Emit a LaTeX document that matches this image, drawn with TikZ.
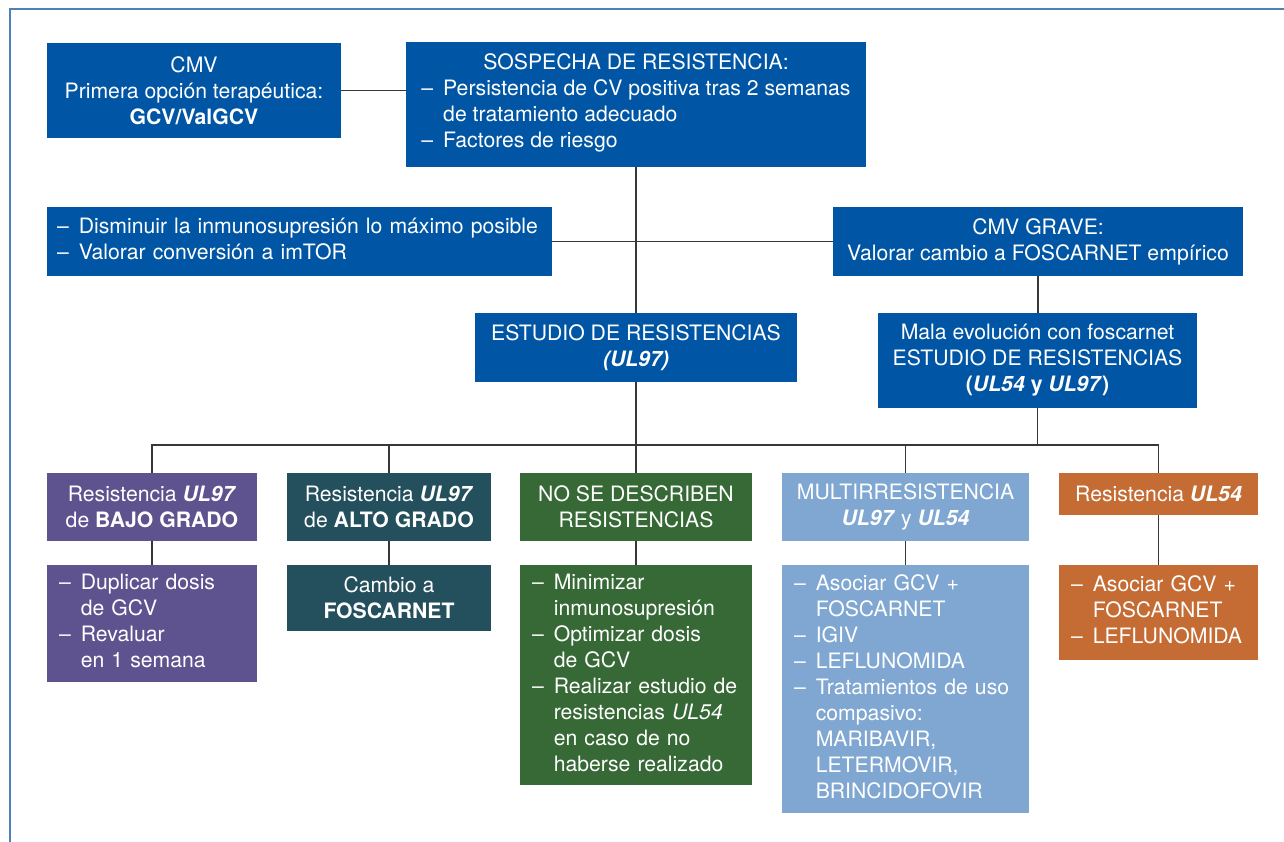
\documentclass[tikz,border=0pt]{standalone}
\usepackage{fontspec}
\setmainfont{TeX Gyre Heros}
\usetikzlibrary{calc}

\definecolor{cmvblue}{RGB}{0,86,164}
\definecolor{bajopurple}{RGB}{95,83,143}
\definecolor{altoteal}{RGB}{36,79,92}
\definecolor{nosegreen}{RGB}{54,105,53}
\definecolor{multiblue}{RGB}{127,167,209}
\definecolor{ulorange}{RGB}{196,108,52}
\definecolor{framecol}{RGB}{78,128,188}
\definecolor{linkcol}{RGB}{55,55,55}

\newcommand{\gen}[1]{\textbf{\textit{#1}}}
\newcommand{\guiones}[1]{\begin{tabular}[t]{@{}l@{\hspace{10pt}}l@{}}#1\end{tabular}}

\begin{document}
\begin{tikzpicture}[x=1pt, y=-1pt,
    box/.style={rectangle, inner sep=0pt, text=white, align=center,
        font=\fontsize{21.2}{26}\selectfont},
    lbox/.style={box, align=left, inner xsep=12pt},
    link/.style={draw=linkcol, line width=1.3pt},
    frame/.style={draw=framecol, line width=1.5pt}]
    \useasboundingbox (0,0) rectangle (1284,842);
    \draw[frame] (1284,9) -- (10,9) -- (10,842);

    % first row
    \node[box, fill=cmvblue, minimum width=294, minimum height=95] (cmv) at (194,90.5)
        {CMV\\Primera opción terapéutica:\\\textbf{GCV/ValGCV}};
    \node[box, fill=cmvblue, minimum width=460, minimum height=125] (sospecha) at (636,104.5)
        {SOSPECHA DE RESISTENCIA:\\
         \guiones{–&Persistencia de CV positiva tras 2 semanas\\&de tratamiento adecuado\\–&Factores de riesgo}};

    % second row
    \node[lbox, fill=cmvblue, inner xsep=10pt, text width=485, minimum height=69] (disminuir) at (299.5,241.5)
        {\guiones{–&Disminuir la inmunosupresión lo máximo posible\\–&Valorar conversión a imTOR}};
    \node[box, fill=cmvblue, minimum width=410, minimum height=69] (grave) at (1038,241.5)
        {CMV GRAVE:\\Valorar cambio a FOSCARNET empírico};

    % third row
    \node[box, fill=cmvblue, minimum width=322, minimum height=69] (estudio) at (636,347.5)
        {ESTUDIO DE RESISTENCIAS\\\gen{(UL97)}};
    \node[box, fill=cmvblue, minimum width=319, minimum height=95] (mala) at (1037.5,360.5)
        {Mala evolución con foscarnet\\ESTUDIO DE RESISTENCIAS\\\textbf{(\textit{UL54} y \textit{UL97})}};

    % results
    \node[box, fill=bajopurple, minimum width=210, minimum height=68] (bajo) at (152,507)
        {Resistencia \gen{UL97}\\de \textbf{BAJO GRADO}};
    \node[box, fill=altoteal, minimum width=204, minimum height=68] (alto) at (389,507)
        {Resistencia \gen{UL97}\\de \textbf{ALTO GRADO}};
    \node[box, fill=nosegreen, minimum width=232, minimum height=68] (nose) at (636,507)
        {NO SE DESCRIBEN\\RESISTENCIAS};
    \node[box, fill=multiblue, minimum width=247, minimum height=68] (multi) at (905.5,507)
        {MULTIRRESISTENCIA\\\gen{UL97} y \gen{UL54}};
    \node[box, fill=ulorange, minimum width=199, minimum height=42] (ul54) at (1158.5,494)
        {Resistencia \gen{UL54}};

    % actions
    \node[lbox, fill=bajopurple, text width=186, minimum height=117] (bajo2) at (152,623.5)
        {\guiones{–&Duplicar dosis\\&de GCV\\–&Revaluar\\&en 1 semana}};
    \node[box, fill=altoteal, minimum width=204, minimum height=66] (cambio) at (389,598)
        {Cambio a\\\textbf{FOSCARNET}};
    \node[lbox, fill=nosegreen, text width=208, minimum height=220] (nose2) at (636,675)
        {\guiones{–&Minimizar\\&inmunosupresión\\–&Optimizar dosis\\&de GCV\\–&Realizar estudio de\\&resistencias \textit{UL54}\\&en caso de no\\&haberse realizado}};
    \node[lbox, fill=multiblue, text width=223, minimum height=248] (multi2) at (905.5,689)
        {\guiones{–&Asociar GCV +\\&FOSCARNET\\–&IGIV\\–&LEFLUNOMIDA\\–&Tratamientos de uso\\&compasivo:\\&MARIBAVIR,\\&LETERMOVIR,\\&BRINCIDOFOVIR}};
    \node[lbox, fill=ulorange, text width=175, minimum height=95] (ul54b) at (1158.5,612.5)
        {\guiones{–&Asociar GCV +\\&FOSCARNET\\–&LEFLUNOMIDA}};

    % connectors
    \draw[link] (cmv.east) -- (cmv.east -| sospecha.west);
    \draw[link] (sospecha.south) -- (estudio.north);
    \draw[link] (disminuir.east) -- (disminuir.east -| sospecha.south);
    \draw[link] (grave.west) -- (grave.west -| sospecha.south);
    \draw[link] (grave.south) -- (grave.south |- mala.north);
    \coordinate (bus) at (636,445);
    \draw[link] (estudio.south) -- (bus);
    \draw[link] (mala.south) -- (mala.south |- bus);
    \draw[link] (bajo.north) |- (bus) -| (ul54.north);
    \foreach \n in {alto,nose,multi}
        \draw[link] (\n.north) -- (\n.north |- bus);
    \foreach \a/\b in {bajo/bajo2,alto/cambio,nose/nose2,multi/multi2,ul54/ul54b}
        \draw[link] (\a.south) -- (\b.north);
\end{tikzpicture}
\end{document}
